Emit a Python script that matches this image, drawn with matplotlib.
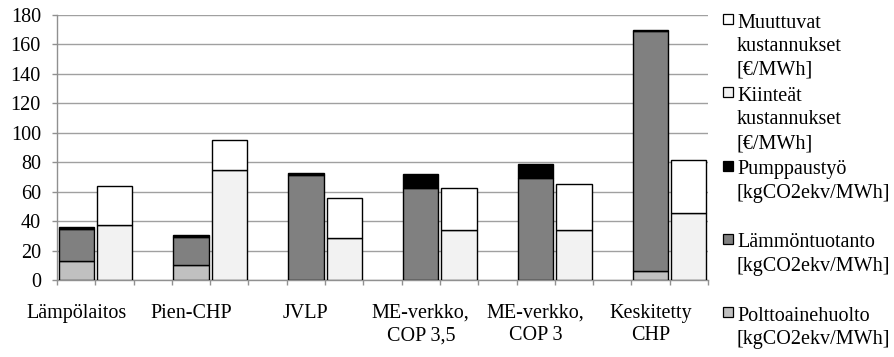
import numpy as np
from matplotlib import pyplot as plt
from matplotlib.patches import Rectangle

plt.rcParams['font.family'] = ['Liberation Serif', 'DejaVu Serif']

categories = ["Lämpölaitos", "Pien-CHP", "JVLP", "ME-verkko,\nCOP 3,5",
              "ME-verkko,\nCOP 3", "Keskitetty\nCHP"]

# emission bar (kgCO2ekv/MWh)
polttoainehuolto = [13.2, 10.0, 0.3, 0.0, 0.0, 5.9]
lammontuotanto = [21.5, 19.3, 70.7, 62.8, 69.6, 163.0]
pumppaustyo = [1.5, 1.3, 1.8, 9.0, 8.9, 1.1]

# cost bar (€/MWh)
kiinteat = [37.4, 74.8, 28.6, 34.0, 34.0, 45.6]
muuttuvat = [26.3, 20.4, 27.0, 28.6, 30.9, 36.0]

legend_labels = [
    "Muuttuvat\nkustannukset\n[€/MWh]",
    "Kiinteät\nkustannukset\n[€/MWh]",
    "Pumppaustyö\n[kgCO2ekv/MWh]",
    "Lämmöntuotanto\n[kgCO2ekv/MWh]",
    "Polttoainehuolto\n[kgCO2ekv/MWh]",
]
legend_colors = ['white', '#f2f2f2', 'black', '#808080', '#c0c0c0']

FS = 14.5

fig = plt.figure(figsize=(8.94, 3.57), dpi=100)
ax = fig.add_axes([57 / 894, 1 - 280 / 357, (708 - 57) / 894, (280 - 15) / 357])

n = len(categories)
x_em = np.arange(n) * 3
x_co = x_em + 1
w = 0.92
edge = dict(edgecolor='black', linewidth=1.0, zorder=3)

p = np.array(polttoainehuolto)
l = np.array(lammontuotanto)
pu = np.array(pumppaustyo)
ax.bar(x_em, p, w, color='#c0c0c0', **edge)
ax.bar(x_em, l, w, bottom=p, color='#808080', **edge)
ax.bar(x_em, pu, w, bottom=p + l, color='black', **edge)

k = np.array(kiinteat)
m = np.array(muuttuvat)
ax.bar(x_co, k, w, color='#f2f2f2', **edge)
ax.bar(x_co, m, w, bottom=k, color='white', **edge)

ax.set_xlim(-0.5, 3 * n - 1 - 0.5)
ax.set_ylim(0, 180)
ax.set_yticks(np.arange(0, 181, 20))
ax.yaxis.grid(True, color='#a0a0a0', linewidth=1.0, zorder=0)
ax.set_axisbelow(True)

ax.set_xticks(np.arange(-0.5, 3 * n - 1, 1.0))
ax.set_xticklabels([])
ax.set_xticks(x_em, minor=True)
ax.set_xticklabels(categories, minor=True, fontsize=FS, linespacing=1.25)
ax.tick_params(axis='x', which='major', length=3.6, color='#909090', width=1.0)
ax.tick_params(axis='x', which='minor', length=0, pad=17)
ax.tick_params(axis='y', length=3.6, color='#909090', width=1.0, pad=8,
               labelsize=FS)
for t in ax.get_xticklabels(minor=True):
    t.set_verticalalignment('top')

for s in ['top', 'right']:
    ax.spines[s].set_visible(False)
for s in ['left', 'bottom']:
    ax.spines[s].set_color('#909090')
    ax.spines[s].set_linewidth(1.0)

# legend, entries top aligned at equal spacing
for i, (lab, col) in enumerate(zip(legend_labels, legend_colors)):
    top = 14 + i * 73.3
    fig.patches.append(Rectangle((723 / 894, 1 - (top + 10) / 357), 10 / 894, 10 / 357,
                                 transform=fig.transFigure, facecolor=col,
                                 edgecolor='black', linewidth=0.9))
    fig.text(737 / 894, 1 - (top - 0.5) / 357, lab, fontsize=FS, va='top',
             ha='left', linespacing=1.33)

fig.savefig('out.png', dpi=100)
